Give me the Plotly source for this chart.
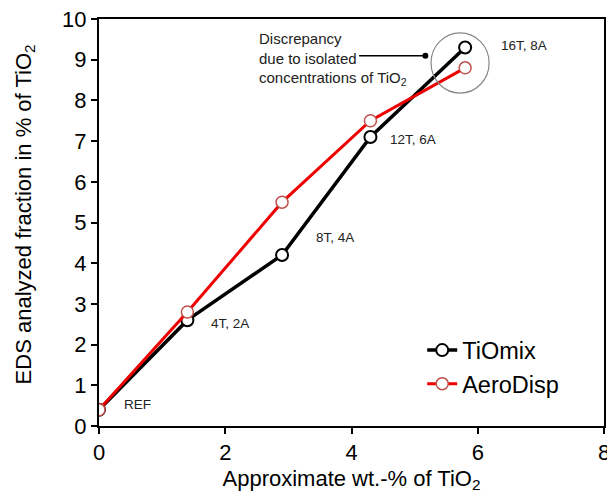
import plotly.graph_objects as go

wt_tio2 = [0, 1.4, 2.9, 4.3, 5.8]
tiomix = [0.4, 2.6, 4.2, 7.1, 9.3]
aerodisp = [0.4, 2.8, 5.5, 7.5, 8.8]
point_labels = ["REF", "4T, 2A", "8T, 4A", "12T, 6A", "16T, 8A"]
label_x = [0.36, 1.75, 3.40, 4.58, 6.33]
label_y = [0.52, 2.53, 4.64, 7.03, 9.36]

fig = go.Figure()
fig.add_trace(go.Scatter(
    x=wt_tio2, y=tiomix, mode="lines+markers", name="TiOmix",
    line=dict(color="black", width=3.5),
    marker=dict(symbol="circle", size=12, color="white", line=dict(color="black", width=2)),
))
fig.add_trace(go.Scatter(
    x=wt_tio2, y=aerodisp, mode="lines+markers", name="AeroDisp",
    line=dict(color="#ee0000", width=3),
    marker=dict(symbol="circle", size=12, color="white", line=dict(color="#c0504d", width=1.5)),
))
# pointer dot
fig.add_trace(go.Scatter(
    x=[5.17], y=[9.1], mode="markers", showlegend=False,
    marker=dict(size=6, color="black"), hoverinfo="skip",
))

for t, xx, yy in zip(point_labels, label_x, label_y):
    fig.add_annotation(x=xx, y=yy, text=t, showarrow=False, xanchor="left", yanchor="middle",
                       font=dict(family="Liberation Sans, Arial", size=13.5, color="#222"))

fig.add_annotation(x=2.51, y=9.02, text="Discrepancy<br>due to isolated<br>concentrations of TiO<sub>2</sub>",
                   showarrow=False, xanchor="left", yanchor="middle", align="left",
                   font=dict(family="Liberation Sans, Arial", size=15, color="#222"))

# y-axis title
fig.add_annotation(xref="paper", yref="paper", x=-0.1465, y=0.52,
                   text="EDS analyzed fraction in % of TiO<sub>2</sub>", textangle=-90,
                   showarrow=False, xanchor="center", yanchor="middle",
                   font=dict(family="Liberation Sans, Arial", size=22, color="black"))

fig.add_shape(type="line", x0=4.12, x1=5.17, y0=9.1, y1=9.1, line=dict(color="black", width=1.5))
fig.add_shape(type="circle", x0=5.26, x1=6.18, y0=8.18, y1=9.66, line=dict(color="#888", width=1.2))

fig.update_layout(
    width=607, height=491,
    margin=dict(l=91, r=11, t=11, b=73),
    paper_bgcolor="white", plot_bgcolor="white",
    font=dict(family="Liberation Sans, Arial", color="black"),
    showlegend=True,
    legend=dict(x=0.64, y=0.24, xanchor="left", yanchor="top", bgcolor="rgba(0,0,0,0)",
                font=dict(size=23.5), tracegroupgap=0),
)
fig.update_xaxes(
    range=[0, 8], tickvals=[0, 2, 4, 6, 8], showgrid=False, zeroline=False,
    showline=True, linecolor="black", linewidth=2, mirror=True,
    ticks="outside", ticklen=6, tickwidth=2, tickcolor="black",
    tickfont=dict(size=22), automargin="bottom", ticklabeloverflow="allow",
    title=dict(text="Approximate wt.-% of TiO<sub>2</sub>", font=dict(size=22), standoff=6),
)
fig.update_yaxes(
    range=[0, 10], tickvals=list(range(0, 11)), showgrid=False, zeroline=False,
    showline=True, linecolor="black", linewidth=2, mirror=True,
    ticks="outside", ticklen=6, tickwidth=2, tickcolor="black",
    tickfont=dict(size=22), automargin=False, ticklabeloverflow="allow",
)

fig.write_html("out.html")
